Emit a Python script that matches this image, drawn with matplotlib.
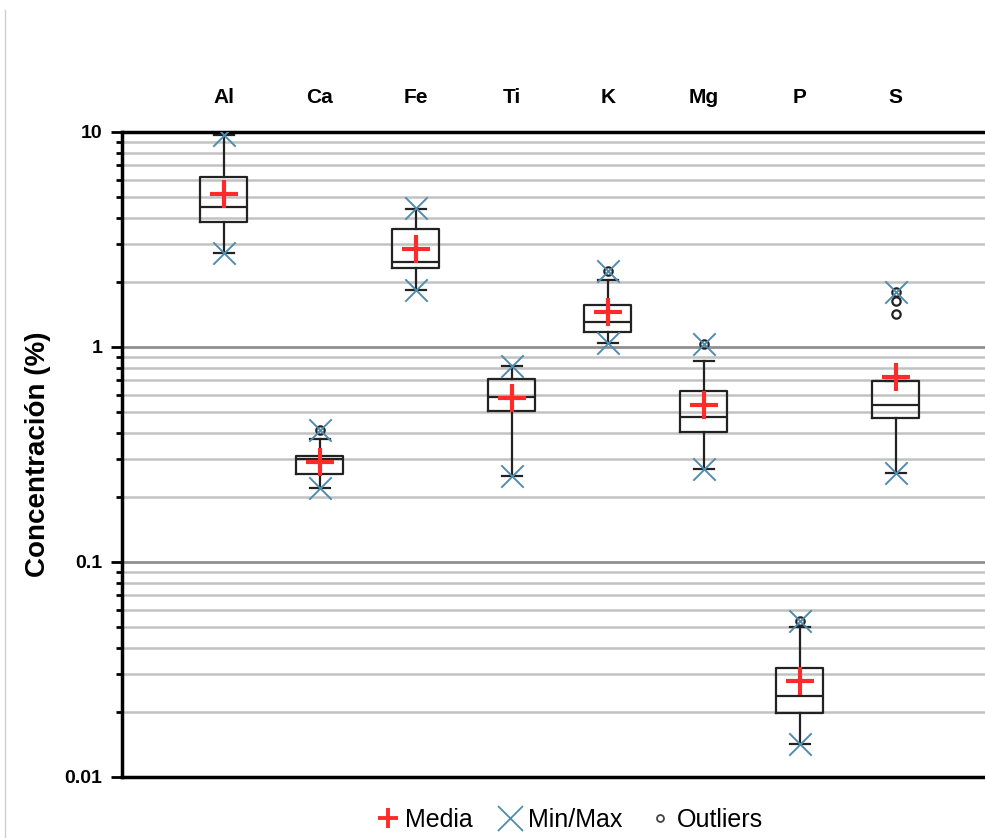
import numpy as np
import matplotlib.pyplot as plt
from matplotlib.lines import Line2D
from matplotlib.ticker import LogLocator, NullFormatter, FixedLocator

plt.rcParams['font.family'] = ['Liberation Sans', 'DejaVu Sans']

elements = ['Al', 'Ca', 'Fe', 'Ti', 'K', 'Mg', 'P', 'S']

q1 = [3.80, 0.257, 2.32, 0.506, 1.18, 0.404, 0.0198, 0.466]
med = [4.48, 0.300, 2.48, 0.588, 1.31, 0.471, 0.0237, 0.535]
q3 = [6.20, 0.311, 3.54, 0.708, 1.56, 0.626, 0.0321, 0.697]
mean = [5.15, 0.293, 2.85, 0.578, 1.46, 0.539, 0.0281, 0.725]
whis_lo = [2.74, 0.220, 1.84, 0.252, 1.04, 0.271, 0.01426, 0.259]
whis_hi = [9.70, 0.373, 4.40, 0.818, 2.06, 0.858, 0.050, 0.697]
vmin = [2.74, 0.220, 1.84, 0.252, 1.04, 0.271, 0.01426, 0.259]
vmax = [9.70, 0.411, 4.45, 0.818, 2.25, 1.03, 0.0533, 1.81]
outliers = [[], [0.411], [], [], [2.25], [1.03], [0.0533], [1.81, 1.63, 1.42]]

red = '#ff2b2b'
blue = '#4f8db0'

stats = []
for i, name in enumerate(elements):
    stats.append(dict(label=name, q1=q1[i], med=med[i], q3=q3[i], mean=mean[i],
                      whislo=whis_lo[i], whishi=whis_hi[i], fliers=outliers[i]))

fig = plt.figure(figsize=(9.85, 8.38), dpi=100)
ax = fig.add_axes([0.1239, 0.0728, 0.8761, 0.7697])

pos = np.arange(len(elements))

# horizontal grid on every log step, darker at the decades
for dec in [0.01, 0.1, 1]:
    for m in range(2, 10):
        ax.axhline(dec * m, color='#c2c2c2', lw=1.8, zorder=0)
for v in [0.1, 1]:
    ax.axhline(v, color='#8f8f8f', lw=2.0, zorder=0)

ax.bxp(stats, positions=pos, widths=0.49, showmeans=True, showfliers=True,
       capwidths=0.21, manage_ticks=False,
       boxprops=dict(color='#222222', lw=1.6),
       medianprops=dict(color='#222222', lw=1.6),
       whiskerprops=dict(color='#222222', lw=1.6),
       capprops=dict(color='#222222', lw=1.6),
       meanprops=dict(marker='+', markeredgecolor=red, markersize=20, markeredgewidth=3),
       flierprops=dict(marker='o', markerfacecolor='none', markeredgecolor='#222222',
                       markersize=6, markeredgewidth=1.6))

ax.scatter(pos, vmin, marker='x', s=260, color=blue, lw=1.4, zorder=4)
ax.scatter(pos, vmax, marker='x', s=260, color=blue, lw=1.4, zorder=4)

ax.set_yscale('log')
ax.set_ylim(0.01, 10)
ax.set_xlim(-1.06, 7.93)

ax.yaxis.set_major_locator(FixedLocator([0.01, 0.1, 1, 10]))
ax.set_yticklabels(['0.01', '0.1', '1', '10'], fontsize=14, fontweight='bold')
ax.yaxis.set_minor_locator(LogLocator(base=10, subs=np.arange(2, 10)))
ax.yaxis.set_minor_formatter(NullFormatter())
ax.tick_params(axis='y', which='major', length=8, width=2, pad=6)
ax.tick_params(axis='y', which='minor', length=4, width=2)

ax.set_xticks(pos)
ax.set_xticklabels(elements, fontsize=15, fontweight='bold')
ax.xaxis.tick_top()
ax.tick_params(axis='x', length=0, pad=18)

ax.set_ylabel('Concentración (%)', fontsize=20, fontweight='bold', labelpad=10)

for side in ['left', 'top', 'bottom']:
    ax.spines[side].set_linewidth(2.5)
    ax.spines[side].set_color('black')
ax.spines['right'].set_visible(False)

handles = [
    Line2D([], [], ls='none', marker='+', color=red, markersize=15, markeredgewidth=2.8),
    Line2D([], [], ls='none', marker='x', color=blue, markersize=18, markeredgewidth=1.3),
    Line2D([], [], ls='none', marker='o', markerfacecolor='none', markeredgecolor='#444444',
           markersize=5, markeredgewidth=1.3),
]
fig.legend(handles, ['Media', 'Min/Max', 'Outliers'], loc='center', ncol=3,
           bbox_to_anchor=(0.578, 0.022), frameon=False, fontsize=18,
           handletextpad=0.2, columnspacing=1.0, handlelength=1.0)

fig.add_artist(Line2D([0.005, 0.005], [0.0, 0.988], transform=fig.transFigure,
                      color='#d0d0d0', lw=1))

fig.savefig('out.png', dpi=100)
